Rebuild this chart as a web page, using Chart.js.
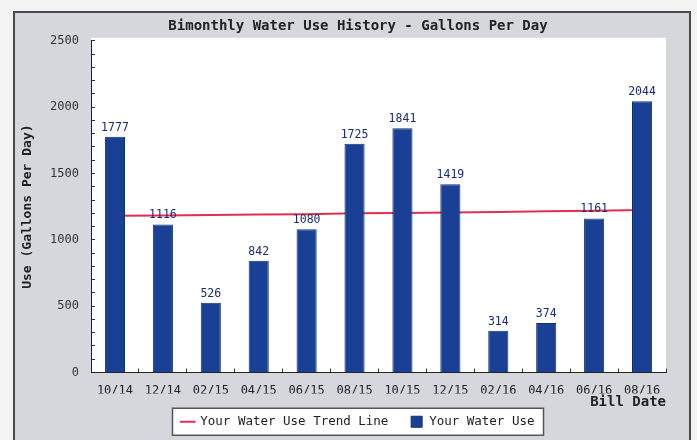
<!DOCTYPE html>
<html>
<head>
<meta charset="utf-8">
<script src="https://cdn.jsdelivr.net/npm/chart.js@4.4.0/dist/chart.umd.min.js"></script>
<style>
  html, body { margin: 0; padding: 0; background: #f3f3f3; }
  #wrap { width: 697px; height: 440px; }
</style>
</head>
<body>
<div id="wrap"><canvas id="waterChart" width="697" height="440"></canvas></div>
<script>
// values
const billDates = ["10/14", "12/14", "02/15", "04/15", "06/15", "08/15", "10/15", "12/15", "02/16", "04/16", "06/16", "08/16"];
const waterUse = [1777, 1116, 526, 842, 1080, 1725, 1841, 1419, 314, 374, 1161, 2044];
const trendLine = [1182, 1184, 1188, 1190, 1192, 1200, 1203, 1206, 1210, 1215, 1220, 1224];
const majorTicks = [0, 500, 1000, 1500, 2000, 2500];

const mono = "'DejaVu Sans Mono', 'Liberation Mono', monospace";

// grey panel, white plot area and the box round the legend
const panelPlugin = {
  id: "panel",
  beforeDraw(chart) {
    const ctx = chart.ctx;
    const a = chart.chartArea;
    ctx.save();
    ctx.fillStyle = "#f3f3f3";
    ctx.fillRect(0, 0, chart.width, chart.height);
    ctx.fillStyle = "#d6d7dc";
    ctx.fillRect(14, 12, 676, 440);
    ctx.strokeStyle = "#4a4a4a";
    ctx.lineWidth = 2;
    ctx.strokeRect(14, 12, 676, 440);
    ctx.fillStyle = "#ffffff";
    ctx.fillRect(a.left, a.top - 3, a.right - a.left, a.bottom - a.top + 3);

    const boxes = chart.legend.legendHitBoxes;
    if (boxes && boxes.length) {
      const first = boxes[0];
      const last = boxes[boxes.length - 1];
      const cy = first.top + first.height / 2;
      const x0 = first.left - 9;
      const x1 = last.left + last.width + 9;
      ctx.fillStyle = "#ffffff";
      ctx.fillRect(x0, cy - 13.5, x1 - x0, 27);
      ctx.strokeStyle = "#555";
      ctx.lineWidth = 1.5;
      ctx.strokeRect(x0, cy - 13.5, x1 - x0, 27);
    }
    ctx.restore();
  }
};

// value above each bar
const valueLabels = {
  id: "valueLabels",
  afterDatasetsDraw(chart) {
    const ctx = chart.ctx;
    const meta = chart.getDatasetMeta(1);
    ctx.save();
    ctx.font = "11.5px " + mono;
    ctx.fillStyle = "#1b2a78";
    ctx.textAlign = "center";
    ctx.textBaseline = "alphabetic";
    meta.data.forEach((bar, i) => {
      ctx.fillText(String(waterUse[i]), bar.x, bar.y - 6);
    });
    ctx.restore();
  }
};

new Chart(document.getElementById("waterChart"), {
  data: {
    labels: billDates,
    datasets: [
      {
        type: "line",
        label: "Your Water Use Trend Line",
        data: trendLine,
        borderColor: "#e0304e",
        backgroundColor: "#e0304e",
        borderWidth: 2,
        pointRadius: 0,
        pointStyle: "line",
        tension: 0,
        order: 2
      },
      {
        type: "bar",
        label: "Your Water Use",
        data: waterUse,
        backgroundColor: "#1a4096",
        borderColor: "#12306f",
        borderWidth: 1,
        pointStyle: "rect",
        barPercentage: 0.42,
        categoryPercentage: 1,
        order: 1
      }
    ]
  },
  options: {
    responsive: false,
    animation: false,
    layout: { padding: { left: 50, right: 31, top: 0, bottom: 2 } },
    plugins: {
      title: {
        display: true,
        text: "Bimonthly Water Use History - Gallons Per Day",
        color: "#222",
        font: { family: mono, size: 14, weight: "bold" },
        padding: { top: 18, bottom: 6 }
      },
      legend: {
        position: "bottom",
        labels: {
          usePointStyle: true,
          boxHeight: 11,
          padding: 22,
          color: "#222",
          font: { family: mono, size: 12.5 },
          sort: (a, b) => a.datasetIndex - b.datasetIndex
        }
      },
      tooltip: { enabled: false }
    },
    scales: {
      x: {
        offset: true,
        grid: { display: true, drawOnChartArea: false, offset: true, tickLength: -4, color: "#333" },
        border: { color: "#222", width: 1 },
        ticks: {
          autoSkip: false,
          maxRotation: 0,
          padding: 15,
          color: "#222",
          font: { family: mono, size: 12 }
        },
        title: {
          display: true,
          text: "Bill Date",
          align: "end",
          color: "#222",
          font: { family: mono, size: 14, weight: "bold" },
          padding: { top: 0, bottom: -17 }
        },
        afterFit(scale) { scale.height = 21; }
      },
      y: {
        min: 0,
        max: 2500,
        grid: { display: true, drawOnChartArea: false, tickLength: -4, color: "#333" },
        border: { color: "#222", width: 1 },
        ticks: {
          stepSize: 100,
          autoSkip: false,
          padding: 16,
          color: "#333",
          font: { family: mono, size: 12 },
          callback: (v) => (majorTicks.includes(v) ? v : "")
        },
        title: {
          display: true,
          text: "Use (Gallons Per Day)",
          color: "#222",
          font: { family: mono, size: 13, weight: "bold" },
          padding: { top: -30, bottom: 0 }
        },
        afterFit(scale) { scale.width = 41; }
      }
    }
  },
  plugins: [panelPlugin, valueLabels]
});
</script>
</body>
</html>
